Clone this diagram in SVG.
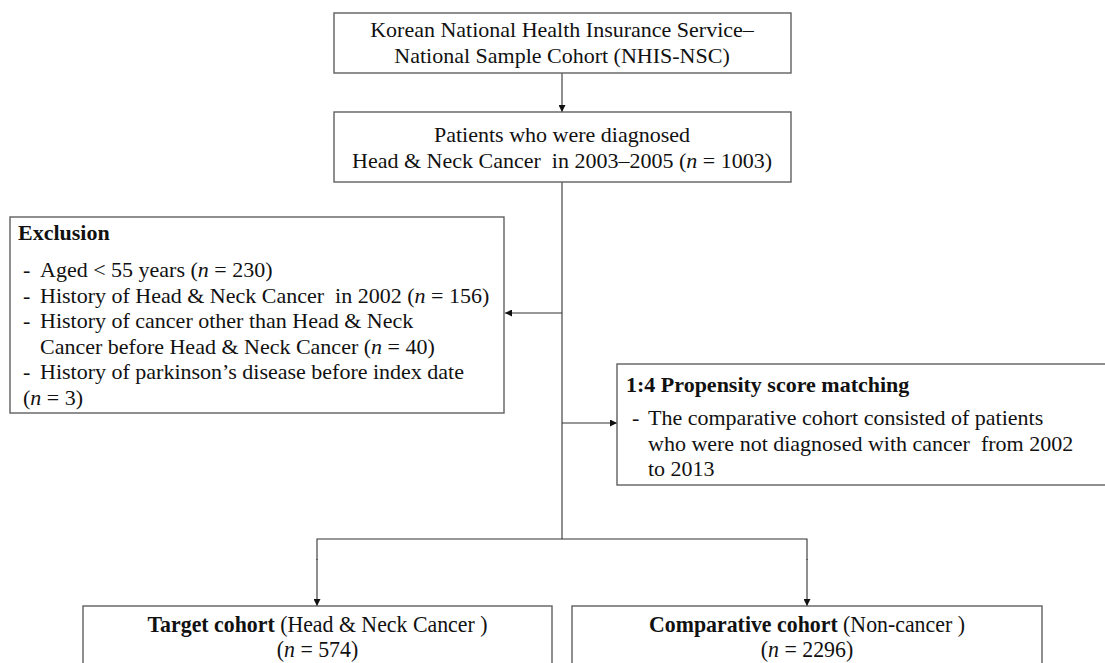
<svg xmlns="http://www.w3.org/2000/svg" width="1105" height="663" viewBox="0 0 1105 663">
<style>
.box{fill:#fff;stroke:#606060;stroke-width:1.4}
.ln{fill:none;stroke:#333;stroke-width:1.1}
text{font-family:"Palatino Linotype","Book Antiqua","Liberation Serif",serif;font-size:22px;fill:#111;white-space:pre}
.c{text-anchor:middle}
.b{font-weight:bold}
.i{font-style:italic}
.cd{font-size:24px}
</style>
<defs>
<marker id="ah" viewBox="0 0 10 10" refX="10" refY="5" markerWidth="7" markerHeight="7" markerUnits="userSpaceOnUse" orient="auto">
<path d="M0,0 L10,5 L0,10 z" fill="#111"/>
</marker>
</defs>
<g id="connectors">
<line class="ln" x1="562" y1="73" x2="562" y2="112" marker-end="url(#ah)"/>
<line class="ln" x1="562" y1="182" x2="562" y2="539"/>
<line class="ln" x1="562" y1="313" x2="505" y2="313" marker-end="url(#ah)"/>
<line class="ln" x1="562" y1="423" x2="617" y2="423" marker-end="url(#ah)"/>
<polyline class="ln" points="317,560 317,539 807,539 807,560"/>
<line class="ln" x1="317" y1="559" x2="317" y2="606" marker-end="url(#ah)"/>
<line class="ln" x1="807" y1="559" x2="807" y2="606" marker-end="url(#ah)"/>
</g>
<g id="source">
<rect class="box" x="334" y="13" width="457" height="60"/>
<text class="c" x="562" y="37">Korean National Health Insurance Service–</text>
<text class="c" x="562" y="63">National Sample Cohort (NHIS-NSC)</text>
</g>
<g id="patients">
<rect class="box" x="334" y="112" width="457" height="70"/>
<text class="c" x="562" y="142">Patients who were diagnosed</text>
<text class="c" x="562" y="168">Head &amp; Neck Cancer  in 2003–2005 (<tspan class="i">n</tspan> = 1003)</text>
</g>
<g id="exclusion">
<rect class="box" x="10" y="217" width="494" height="196"/>
<text class="b" x="18" y="240">Exclusion</text>
<text x="23" y="277">-</text><text x="40" y="277">Aged &lt; 55 years (<tspan class="i">n</tspan> = 230)</text>
<text x="23" y="302.5">-</text><text x="40" y="302.5">History of Head &amp; Neck Cancer  in 2002 (<tspan class="i">n</tspan> = 156)</text>
<text x="23" y="328">-</text><text x="40" y="328">History of cancer other than Head &amp; Neck</text>
<text x="40" y="353.5">Cancer before Head &amp; Neck Cancer (<tspan class="i">n</tspan> = 40)</text>
<text x="23" y="379">-</text><text x="40" y="379">History of parkinson’s disease before index date</text>
<text x="23" y="404.5">(<tspan class="i">n</tspan> = 3)</text>
</g>
<g id="matching">
<rect class="box" x="617" y="364" width="500" height="121"/>
<text class="b" x="626" y="392">1:4 Propensity score matching</text>
<text x="632" y="425">-</text><text x="648" y="425">The comparative cohort consisted of patients</text>
<text x="648" y="450.5">who were not diagnosed with cancer  from 2002</text>
<text x="648" y="476">to 2013</text>
</g>
<g id="target">
<rect class="box" x="83" y="606" width="469" height="70"/>
<g transform="translate(317.5,0) scale(0.91,1)">
<text class="c cd" x="0" y="632"><tspan class="b">Target cohort</tspan> (Head &amp; Neck Cancer )</text>
<text class="c cd" x="0" y="657">(<tspan class="i">n</tspan> = 574)</text>
</g>
</g>
<g id="comparative">
<rect class="box" x="572" y="606" width="470" height="70"/>
<g transform="translate(807,0) scale(0.91,1)">
<text class="c cd" x="0" y="632"><tspan class="b">Comparative cohort</tspan> (Non-cancer )</text>
<text class="c cd" x="0" y="657">(<tspan class="i">n</tspan> = 2296)</text>
</g>
</g>
</svg>
